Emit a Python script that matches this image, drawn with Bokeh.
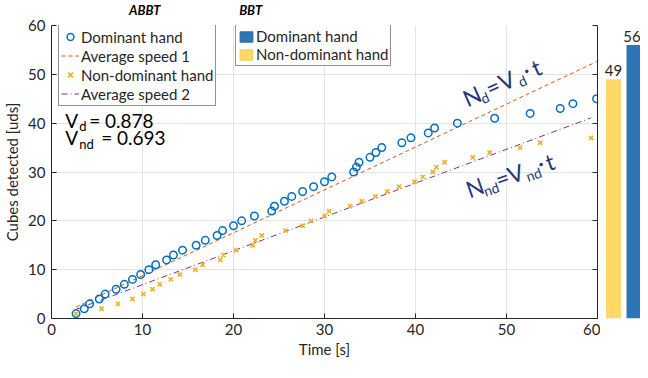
import math
from bokeh.plotting import figure
from bokeh.models import (ColumnDataSource, Range1d, LinearAxis, FixedTicker,
                          Legend, LegendItem)
from bokeh.layouts import row, column
from bokeh.embed import file_html
from bokeh.resources import INLINE
from bokeh.core.properties import value

# ---------------- data ----------------
t_dom = [2.7, 3.6, 4.2, 5.25, 5.9, 7.1, 8.0, 8.9, 9.8, 10.7, 11.45, 12.65, 13.4, 14.4,
         15.9, 16.9, 18.2, 18.8, 20.0, 20.9, 22.3, 24.2, 24.5, 25.6, 26.4, 27.6, 28.8,
         30.0, 30.8, 33.2, 33.5, 33.8, 35.0, 35.65, 36.3, 38.5, 39.5, 41.4, 42.1, 44.6,
         48.7, 52.6, 55.9, 57.3, 59.9]
n_dom = [1, 2, 3, 4, 5, 6, 7, 8, 9, 10, 11, 12, 13, 14, 15, 16, 17, 18, 19, 20, 21, 22,
         23, 24, 25, 26, 27, 28, 29, 30, 31, 32, 33, 34, 35, 36, 37, 38, 39, 40, 41, 42,
         43, 44, 45]
t_nd = [2.7, 5.5, 7.3, 8.9, 10.1, 11.1, 11.9, 13.1, 14.1, 15.8, 16.6, 18.55, 18.9, 20.3,
        22.1, 22.4, 23.1, 25.7, 27.6, 28.5, 30.0, 30.5, 32.8, 34.1, 35.6, 36.9, 38.2,
        39.9, 40.8, 41.9, 42.3, 43.2, 46.3, 48.15, 51.5, 53.7, 59.3]
n_nd = [1, 2, 3, 4, 5, 6, 7, 8, 9, 10, 11, 12, 13, 14, 15, 16, 17, 18, 19, 20, 21, 22,
        23, 24, 25, 26, 27, 28, 29, 30, 31, 32, 33, 34, 35, 36, 37]
v_d = 0.878
v_nd = 0.693
bbt_labels = ["Non-dominant hand", "Dominant hand"]
bbt_values = [49, 56]
panel_titles = ["ABBT", "BBT"]
panel_title_x = [10.8, 22.3]
x_ticks = [0, 10, 20, 30, 40, 50, 60]
y_ticks = [0, 10, 20, 30, 40, 50, 60]

# ---------------- style ----------------
FONT = "Lato"
AX = "#262626"
C_DOM = "#0072BD"
C_L1 = "#D95319"
C_ND = "#EDB120"
C_L2 = "#7E2F8E"
C_BLUE = "#2E75B6"
C_YEL = "#FFD966"
C_EQ = "#1F3A78"

W = 600
TH = 16                 # strip above the axes for the panel titles
H = 346
BT, BB = 9, 44
AXIS_PX = H - BT - BB   # px between the 0 and 60 lines

x_range = Range1d(0, 60)
y_range = Range1d(0, 60)

# ---------------- title strip ----------------
pt = figure(width=W, height=TH, x_range=x_range, y_range=Range1d(0, 1),
            output_backend="svg", toolbar_location=None, title=None,
            x_axis_location=None, y_axis_location=None,
            min_border_left=45, min_border_right=3, min_border_top=0,
            min_border_bottom=0)
pt.outline_line_color = None
pt.grid.visible = False
pt.text(x=panel_title_x, y=[0.5, 0.5], text=panel_titles, text_align="center",
        text_baseline="middle", y_offset=1, text_font=value(FONT),
        text_font_style="bold italic", text_font_size="13px", text_color="black")

# ---------------- main axes ----------------
p = figure(width=W, height=H, x_range=x_range, y_range=y_range, title=None,
           output_backend="svg", toolbar_location=None,
           min_border_left=45, min_border_right=3, min_border_top=BT,
           min_border_bottom=BB)
p.outline_line_color = None

for ax in (p.xaxis[0], p.yaxis[0]):
    ax.axis_line_color = AX
    ax.major_tick_line_color = AX
    ax.major_tick_in = 5
    ax.major_tick_out = 0
    ax.minor_tick_line_color = None
    ax.major_label_text_font = FONT
    ax.major_label_text_font_size = "15px"
    ax.major_label_text_color = AX
    ax.axis_label_text_font = FONT
    ax.axis_label_text_font_size = "15px"
    ax.axis_label_text_font_style = "normal"
    ax.axis_label_text_color = AX
p.xaxis[0].ticker = FixedTicker(ticks=x_ticks)
p.yaxis[0].ticker = FixedTicker(ticks=y_ticks)
p.xaxis[0].axis_label = "Time [s]"
p.yaxis[0].axis_label = "Cubes detected [uds]"
p.xaxis[0].major_label_standoff = 5
p.yaxis[0].major_label_standoff = 6
p.xaxis[0].axis_label_standoff = 2
p.yaxis[0].axis_label_standoff = 4

rax = LinearAxis(ticker=FixedTicker(ticks=y_ticks),
                 major_tick_in=5, major_tick_out=0,
                 minor_tick_line_color=None, axis_line_color=AX,
                 major_tick_line_color=AX, major_label_text_font_size="0px",
                 major_label_standoff=0)
p.add_layout(rax, "right")

p.xgrid.ticker = FixedTicker(ticks=x_ticks)
p.ygrid.ticker = FixedTicker(ticks=y_ticks)
p.grid.grid_line_color = "#e3e3e3"
p.grid.grid_line_width = 1

# average speed lines  N = V * t
xl1 = [t_dom[0], t_dom[-1]]
xl2 = [t_nd[0], t_nd[-1]]
r_l1 = p.line(xl1, [v_d * t for t in xl1], line_color=C_L1, line_width=1,
              line_dash="4 3")
r_l2 = p.line(xl2, [v_nd * t for t in xl2], line_color=C_L2, line_width=1,
              line_dash="6 3 1 3")

r_dom = p.scatter(t_dom, n_dom, marker="circle", size=7.5, fill_color=None,
                  line_color=C_DOM, line_width=1.5)
r_nd = p.scatter(t_nd, n_nd, marker="x", size=6, line_color=C_ND, line_width=1.6)

# renderers without visible data, only for the BBT legend swatches
nan = float("nan")
r_bd = p.vbar(x=[nan], top=[nan], width=1, fill_color=C_BLUE, line_color="#2a6aa6")
r_by = p.vbar(x=[nan], top=[nan], width=1, fill_color=C_YEL, line_color="#f0cc5a")

leg1 = Legend(items=[LegendItem(label="Dominant hand", renderers=[r_dom]),
                     LegendItem(label="Average speed 1", renderers=[r_l1]),
                     LegendItem(label="Non-dominant hand", renderers=[r_nd]),
                     LegendItem(label="Average speed 2", renderers=[r_l2])],
              location=(7, AXIS_PX - 1 - 80))
leg2 = Legend(items=[LegendItem(label="Dominant hand", renderers=[r_bd]),
                     LegendItem(label="Non-dominant hand", renderers=[r_by])],
              location=(184, AXIS_PX - 1 - 40))
for lg in (leg1, leg2):
    lg.border_line_color = AX
    lg.border_line_width = 1
    lg.background_fill_alpha = 1
    lg.label_text_font = FONT
    lg.label_text_font_size = "15px"
    lg.label_text_color = AX
    lg.glyph_width = 18
    lg.glyph_height = 17
    lg.label_height = 19
    lg.spacing = 0
    lg.padding = 2
    lg.margin = 0
    lg.label_standoff = 2
leg2.glyph_width = 16
leg2.glyph_height = 13
leg2.label_height = 18
p.add_layout(leg1)
p.add_layout(leg2)

# V values
vtxt = dict(text=["V", "d", "= %.3f" % v_d, "V", "nd", "= %.3f" % v_nd],
            x=[1.5] * 6,
            y=[40.6, 40.6, 40.6, 37.0, 37.0, 37.0],
            xo=[0, 14, 24, 0, 14, 36],
            yo=[0, 6, 0, 0, 6, 0],
            fs=["19px", "13px", "19px", "19px", "13px", "19px"])
p.text(x="x", y="y", text="text", x_offset="xo", y_offset="yo",
       text_font_size="fs", text_font=value(FONT), text_color="black",
       text_baseline="alphabetic", text_align="left",
       source=ColumnDataSource(vtxt))

# rotated equation labels
def eq_pieces(x0, y0, ang_deg, pieces):
    a = math.radians(ang_deg)
    ca, sa = math.cos(a), math.sin(a)
    d = dict(text=[], x=[], y=[], xo=[], yo=[], fs=[])
    for txt, s, h, fs in pieces:
        d["text"].append(txt)
        d["x"].append(x0)
        d["y"].append(y0)
        d["xo"].append(s * ca + h * sa)
        d["yo"].append(-s * sa + h * ca)
        d["fs"].append(fs)
    return d, a

eq1, a1 = eq_pieces(45.3, 44.9, 24, [("N", 0, 0, "23px"), ("d", 16, 7, "14px"),
                                     ("=", 25, 0, "23px"), ("V", 39, 0, "23px"),
                                     ("d", 57, 7, "14px"), ("·", 66, -2, "23px"),
                                     ("t", 75, 0, "23px")])
eq2, a2 = eq_pieces(45.6, 26.3, 19, [("N", 0, 0, "23px"), ("nd", 16, 7, "14px"),
                                     ("=", 31, 0, "23px"), ("V", 44, 0, "23px"),
                                     ("nd", 61, 7, "14px"), ("·", 76, -2, "23px"),
                                     ("t", 84, 0, "23px")])
for d, a in ((eq1, a1), (eq2, a2)):
    p.text(x="x", y="y", text="text", x_offset="xo", y_offset="yo",
           text_font_size="fs", text_font=value(FONT), text_color=C_EQ,
           text_baseline="alphabetic", text_align="left", angle=a,
           source=ColumnDataSource(d))

# ---------------- BBT bars ----------------
pb = figure(width=40, height=H, x_range=Range1d(0.366, 2.317), y_range=y_range,
            output_backend="svg", toolbar_location=None, title=None,
            x_axis_location=None, y_axis_location=None,
            min_border_left=0, min_border_right=0, min_border_top=BT,
            min_border_bottom=BB)
pb.outline_line_color = None
pb.grid.visible = False
bar_x = [1, 2]
pb.vbar(x=bar_x, top=bbt_values, bottom=0, width=0.73,
        fill_color=[C_YEL, C_BLUE], line_color=None)
pb.text(x=bar_x, y=bbt_values, text=[str(v) for v in bbt_values],
        text_align="center", text_baseline="bottom", y_offset=-3,
        x_offset=[0, -2],
        text_font=value(FONT), text_font_size="15px", text_color=AX)

layout = column(pt, row(p, pb))
open("out.html", "w").write(file_html(layout, INLINE))
